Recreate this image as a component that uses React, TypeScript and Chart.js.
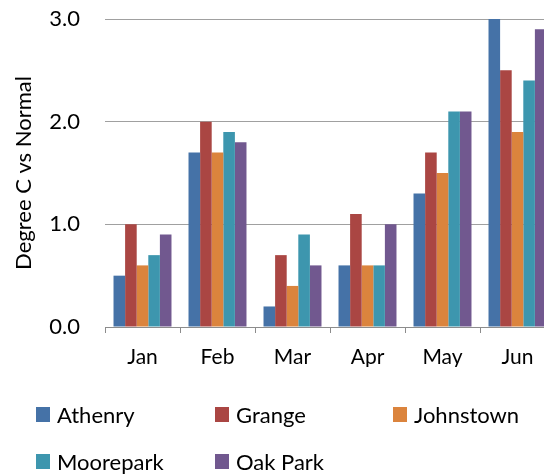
import React, { useEffect, useRef } from "react";
import { Chart, registerables } from "chart.js";

Chart.register(...registerables);

const months = ["Jan", "Feb", "Mar", "Apr", "May", "Jun"];
const stations = ["Athenry", "Grange", "Johnstown", "Moorepark", "Oak Park"];
const athenry = [0.5, 1.7, 0.2, 0.6, 1.3, 3.0];
const grange = [1.0, 2.0, 0.7, 1.1, 1.7, 2.5];
const johnstown = [0.6, 1.7, 0.4, 0.6, 1.5, 1.9];
const moorepark = [0.7, 1.9, 0.9, 0.6, 2.1, 2.4];
const oakPark = [0.9, 1.8, 0.6, 1.0, 2.1, 2.9];
const seriesValues = [athenry, grange, johnstown, moorepark, oakPark];
const colors = ["#4572A7", "#AA4643", "#DB843D", "#3D96AE", "#71588F"];
const yTicks = [0, 1, 2, 3];

const FONT = "Lato";
const AXIS_GREY = "#8c8c8c";

export default function App() {
  const canvasRef = useRef<HTMLCanvasElement | null>(null);

  useEffect(() => {
    if (!canvasRef.current) return;
    const chart = new Chart(canvasRef.current, {
      type: "bar",
      data: {
        labels: months,
        datasets: stations.map((name, i) => ({
          label: name,
          data: seriesValues[i],
          backgroundColor: colors[i],
          borderWidth: 0,
          categoryPercentage: 0.773,
          barPercentage: 1,
        })),
      },
      options: {
        responsive: false,
        animation: false,
        layout: { padding: { left: 0, right: 3, top: 0, bottom: 108 } },
        plugins: {
          legend: { display: false },
          tooltip: { enabled: false },
        },
        scales: {
          x: {
            grid: {
              display: true,
              drawOnChartArea: false,
              drawTicks: true,
              tickLength: 6,
              color: AXIS_GREY,
            },
            border: { display: true, color: AXIS_GREY, width: 1 },
            ticks: {
              color: "#000",
              padding: 12,
              font: { family: FONT, size: 21 },
            },
            afterFit: (s: any) => {
              s.height = 40;
            },
          },
          y: {
            min: 0,
            max: 3,
            afterBuildTicks: (s: any) => {
              s.ticks = yTicks.map((v) => ({ value: v }));
            },
            grid: {
              color: "#a0a0a0",
              drawTicks: true,
              tickLength: 25,
              tickColor: "rgba(0,0,0,0)",
              lineWidth: 1,
            },
            border: { display: false },
            ticks: {
              color: "#000",
              padding: 0,
              font: { family: FONT, size: 22, lineHeight: 1 },
              callback: (v: any) => Number(v).toFixed(1),
            },
            title: {
              display: true,
              text: "Degree C vs Normal",
              color: "#000",
              font: { family: FONT, size: 22 },
              padding: { top: 3, bottom: 0 },
            },
            afterFit: (s: any) => {
              s.width = 97;
            },
          },
        },
      },
    });
    return () => chart.destroy();
  }, []);

  const legendCols = [28, 207, 385];
  const legendRows = [399, 446];

  return (
    <div style={{ width: 544, height: 467, overflow: "hidden", position: "relative" }}>
      <canvas ref={canvasRef} width={550} height={467} style={{ display: "block" }} />
      {stations.map((name, i) => (
        <div
          key={name}
          style={{
            position: "absolute",
            left: legendCols[i % 3],
            top: legendRows[Math.floor(i / 3)] - 5,
            height: 25,
            display: "flex",
            alignItems: "center",
            whiteSpace: "nowrap",
            fontFamily: FONT,
            fontSize: 22,
            color: "#000",
          }}
        >
          <span style={{ display: "inline-block", width: 14, height: 15, background: colors[i], marginRight: 7 }} />
          {name}
        </div>
      ))}
    </div>
  );
}
